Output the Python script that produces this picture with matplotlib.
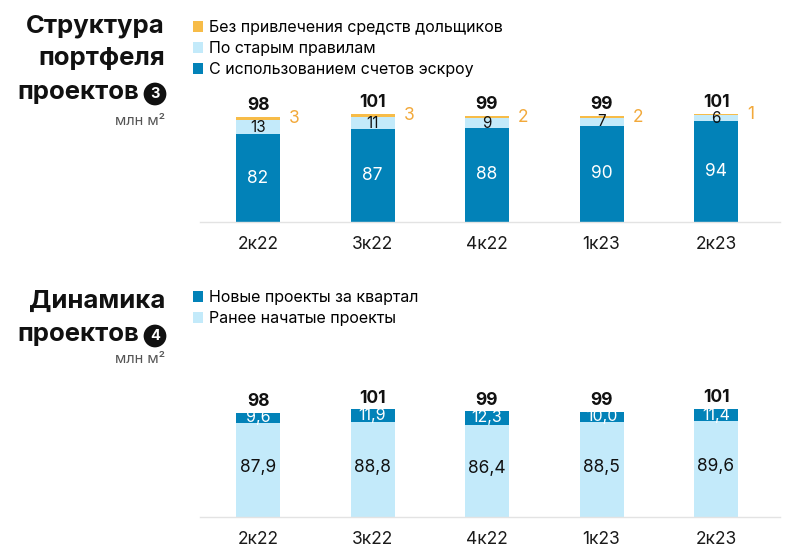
import matplotlib
matplotlib.use("Agg")
import matplotlib.pyplot as plt

plt.rcParams['font.family'] = ['Inter', 'DejaVu Sans']

quarters = ["2к22", "3к22", "4к22", "1к23", "2к23"]

# Chart 3: portfolio structure
escrow = [82, 87, 88, 90, 94]
old_rules = [13, 11, 9, 7, 6]
no_funds = [3, 3, 2, 2, 1]
totals_top = [98, 101, 99, 99, 101]

# Chart 4: project dynamics
earlier = [87.9, 88.8, 86.4, 88.5, 89.6]
new = [9.6, 11.9, 12.3, 10.0, 11.4]
totals_bot = [98, 101, 99, 99, 101]

C_DARK = "#0282B8"
C_LIGHT = "#C3EAFA"
C_ORANGE = "#F7BC48"
C_ORANGE_TXT = "#F2A93B"

W, H = 800, 557
fig = plt.figure(figsize=(8, 5.57), dpi=100)
fig.patch.set_facecolor("white")

def fx(px):
    return px / W

def fy(py):
    return 1 - py / H

x_left, x_right = 200, 780
spacing = 114.5
x0 = (258 - x_left) / spacing
xlim = (-x0, (x_right - x_left) / spacing - x0)
bw = 44 / spacing

def make_ax(base_px):
    ax = fig.add_axes([fx(x_left), (H - base_px) / H, (x_right - x_left) / W, 122 / H])
    ax.set_xlim(*xlim)
    ax.set_ylim(0, 114)
    for s in ["top", "right", "left"]:
        ax.spines[s].set_visible(False)
    ax.spines["bottom"].set_color("#E3E3E3")
    ax.spines["bottom"].set_linewidth(1.0)
    ax.set_yticks([])
    ax.set_xticks(range(len(quarters)))
    ax.set_xticklabels(quarters, fontsize=12.5, color="#1a1a1a")
    ax.tick_params(axis="x", length=0, pad=10)
    ax.patch.set_alpha(0)
    return ax

xs = list(range(len(quarters)))

# ---- Top chart ----
ax1 = make_ax(222)
b1 = ax1.bar(xs, escrow, width=bw, color=C_DARK, label="С использованием счетов эскроу")
b2 = ax1.bar(xs, old_rules, width=bw, bottom=escrow, color=C_LIGHT, label="По старым правилам")
bot3 = [e + o for e, o in zip(escrow, old_rules)]
b3 = ax1.bar(xs, no_funds, width=bw, bottom=bot3, color=C_ORANGE, label="Без привлечения средств дольщиков")
for i in xs:
    ax1.text(i, escrow[i] / 2, str(escrow[i]), ha="center", va="center", color="white", fontsize=12.5)
    ax1.text(i, escrow[i] + old_rules[i] / 2, str(old_rules[i]), ha="center", va="center", color="#111111", fontsize=11)
    ax1.text(i + bw / 2 + 0.08, bot3[i] + no_funds[i] / 2, str(no_funds[i]), ha="left", va="center",
             color=C_ORANGE_TXT, fontsize=12.5)
    ax1.text(i, bot3[i] + no_funds[i] + 2.5, str(totals_top[i]), ha="center", va="bottom",
             color="#111111", fontsize=12.5, fontweight="bold")

fig.legend(handles=[b3, b2, b1], loc="upper left", bbox_to_anchor=(fx(193), fy(20)), frameon=False,
           handlelength=0.65, handleheight=0.65, handletextpad=0.35, labelspacing=0.38, fontsize=11.5,
           borderaxespad=0, borderpad=0)

# ---- Bottom chart ----
ax2 = make_ax(517)
c1 = ax2.bar(xs, earlier, width=bw, color=C_LIGHT, label="Ранее начатые проекты")
c2 = ax2.bar(xs, new, width=bw, bottom=earlier, color=C_DARK, label="Новые проекты за квартал")
for i in xs:
    ax2.text(i, earlier[i] / 2 + 2, f"{earlier[i]:.1f}".replace(".", ","), ha="center", va="center",
             color="#111111", fontsize=12.5)
    ax2.text(i, earlier[i] + new[i] / 2, f"{new[i]:.1f}".replace(".", ","), ha="center", va="center",
             color="white", fontsize=11.5)
    ax2.text(i, earlier[i] + new[i] + 2.5, str(totals_bot[i]), ha="center", va="bottom",
             color="#111111", fontsize=12.5, fontweight="bold")

fig.legend(handles=[c2, c1], loc="upper left", bbox_to_anchor=(fx(193), fy(290)), frameon=False,
           handlelength=0.65, handleheight=0.65, handletextpad=0.35, labelspacing=0.38, fontsize=11.5,
           borderaxespad=0, borderpad=0)

# ---- Titles ----
def title_block(lines, num, y_first, unit_y):
    step = 33
    for k, ln in enumerate(lines):
        y = y_first + k * step
        xr = 165 if k < len(lines) - 1 else 139
        fig.text(fx(xr), fy(y), ln, ha="right", va="center", fontsize=18.5, fontweight="bold", color="#111111")
    y_last = y_first + (len(lines) - 1) * step
    fig.text(fx(155), fy(y_last + 2), num, ha="center", va="center", fontsize=10.5, fontweight="bold",
             color="white", bbox=dict(boxstyle="circle,pad=0.3", fc="#111111", ec="none"))
    fig.text(fx(165), fy(unit_y), "млн м²", ha="right", va="center", fontsize=10.5, color="#555555")

title_block(["Структура", "портфеля", "проектов"], "3", 26, 121)
title_block(["Динамика", "проектов"], "4", 301, 359)

fig.savefig("out.png", dpi=100, facecolor="white")
